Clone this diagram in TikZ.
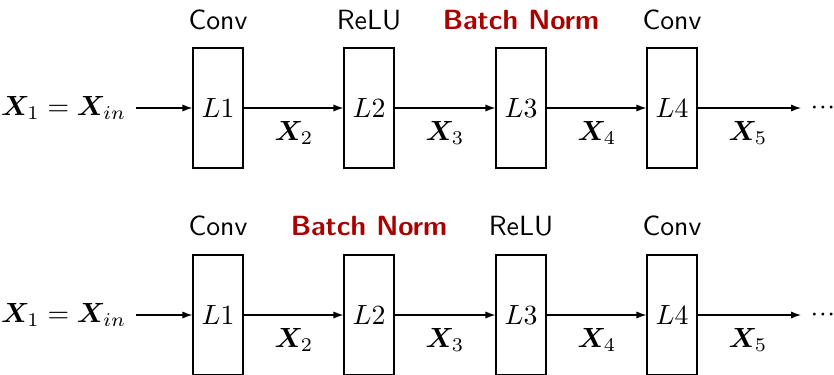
\documentclass[tikz,border=0pt]{standalone}
\usepackage{bm}
\usetikzlibrary{arrows.meta}
\definecolor{bnred}{RGB}{170,0,0}
\newcommand{\moredots}{$\cdotp\mkern-2.5mu\cdotp\mkern-2.5mu\cdotp$}
\tikzset{
  layer/.style={draw, line width=0.45pt, minimum width=50*0.36pt, minimum height=120*0.36pt, inner sep=0pt},
  kind/.style={font=\sffamily},
  bnkind/.style={font=\sffamily\bfseries, text=bnred},
  flow/.style={-{Latex[length=3.6pt,width=2.6pt]}, line width=0.45pt},
  sig/.style={inner sep=0pt},
  etc/.style={anchor=west, inner sep=0pt},
}
\begin{document}
\begin{tikzpicture}[x=0.36pt, y=-0.36pt]
\useasboundingbox (0,0) rectangle (834,374);

% ---- first ordering: Conv, ReLU, Batch Norm, Conv
\begin{scope}
  \node[layer] (a1) at (218,108) {$L1$};
  \node[layer] (a2) at (369,108) {$L2$};
  \node[layer] (a3) at (521,108) {$L3$};
  \node[layer] (a4) at (672,108) {$L4$};
  \node[kind]   (ta1) at (218,20) {Conv};
  \node[kind]   (ta2) at (369,20) {ReLU};
  \node[bnkind] (ta3) at (521,20) {Batch Norm};
  \node[kind]   (ta4) at (672,20) {Conv};
  \node[anchor=east] (ain) at (136,108) {$\bm{X}_1=\bm{X}_{in}$};
  \coordinate (aend) at (801,108);
  \node[etc] (aout) at (810,108) {\moredots};
  \draw[flow] (ain) -- (a1);
  \draw[flow] (a1) -- (a2);
  \draw[flow] (a2) -- (a3);
  \draw[flow] (a3) -- (a4);
  \draw[flow] (a4) -- (aend);
  \node[sig] (ax2) at (294,133) {$\bm{X}_2$};
  \node[sig] (ax3) at (445,133) {$\bm{X}_3$};
  \node[sig] (ax4) at (597,133) {$\bm{X}_4$};
  \node[sig] (ax5) at (748,133) {$\bm{X}_5$};
\end{scope}

% ---- second ordering: Conv, Batch Norm, ReLU, Conv
\begin{scope}
  \node[layer] (b1) at (218,315) {$L1$};
  \node[layer] (b2) at (369,315) {$L2$};
  \node[layer] (b3) at (521,315) {$L3$};
  \node[layer] (b4) at (672,315) {$L4$};
  \node[kind]   (tb1) at (218,226) {Conv};
  \node[bnkind] (tb2) at (369,226) {Batch Norm};
  \node[kind]   (tb3) at (521,226) {ReLU};
  \node[kind]   (tb4) at (672,226) {Conv};
  \node[anchor=east] (bin) at (136,315) {$\bm{X}_1=\bm{X}_{in}$};
  \coordinate (bend) at (801,315);
  \node[etc] (bout) at (810,315) {\moredots};
  \draw[flow] (bin) -- (b1);
  \draw[flow] (b1) -- (b2);
  \draw[flow] (b2) -- (b3);
  \draw[flow] (b3) -- (b4);
  \draw[flow] (b4) -- (bend);
  \node[sig] (bx2) at (294,340) {$\bm{X}_2$};
  \node[sig] (bx3) at (445,340) {$\bm{X}_3$};
  \node[sig] (bx4) at (597,340) {$\bm{X}_4$};
  \node[sig] (bx5) at (748,340) {$\bm{X}_5$};
\end{scope}
\end{tikzpicture}
\end{document}
